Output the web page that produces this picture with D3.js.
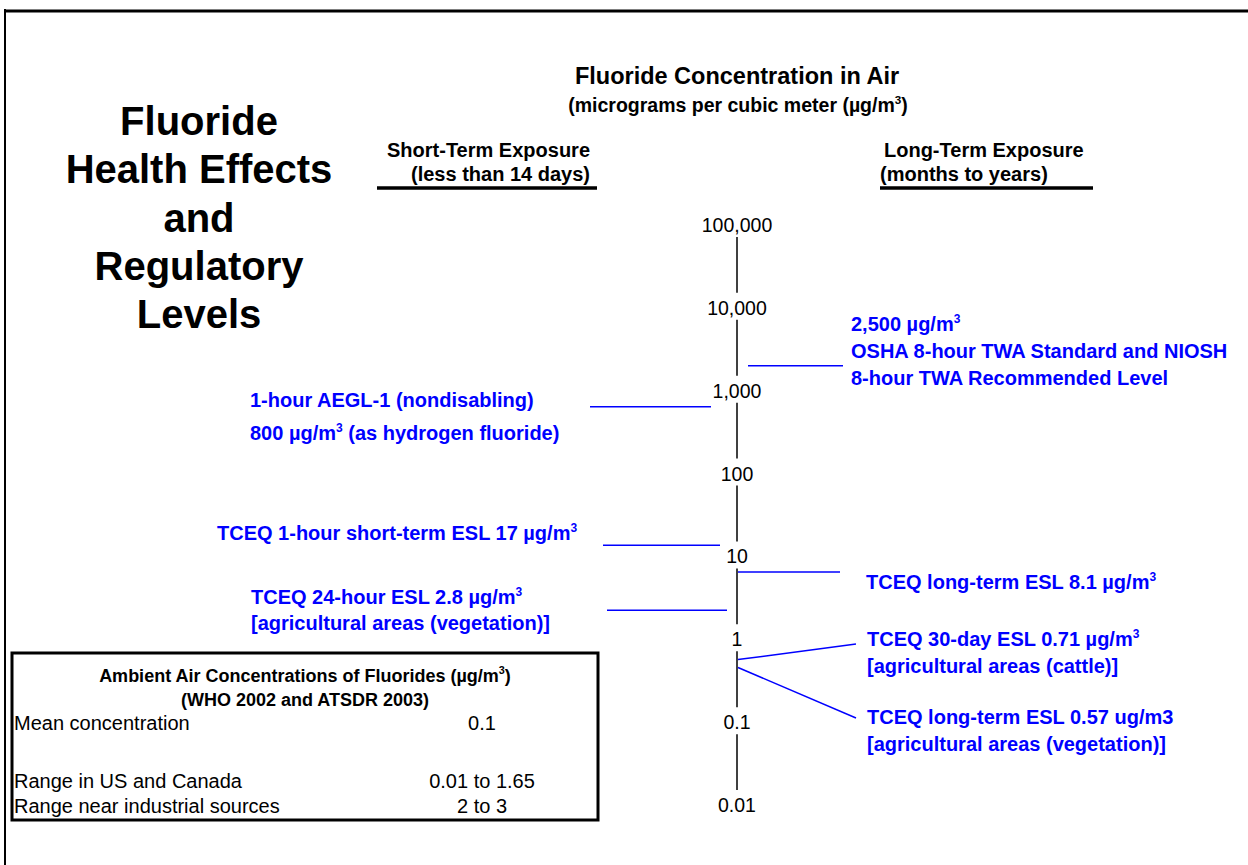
<!DOCTYPE html>
<html>
<head>
<meta charset="utf-8">
<script src="https://cdn.jsdelivr.net/npm/d3@7"></script>
<style>
  body { margin: 0; background: #fff; }
  svg text { font-family: "Liberation Sans", Arial, sans-serif; }
</style>
</head>
<body>
<svg id="chart" width="1248" height="865"></svg>
<script>
'use strict';

// axis ticks, micrograms per cubic meter
const tickValues = [100000, 10000, 1000, 100, 10, 1, 0.1, 0.01];

// short-term exposure levels (left of the axis)
const shortLevels = [800, 17, 2.8];
const shortLabels = [
  ['1-hour AEGL-1 (nondisabling)', '800 µg/m^3 (as hydrogen fluoride)'],
  ['TCEQ 1-hour short-term ESL 17 µg/m^3'],
  ['TCEQ 24-hour ESL 2.8 µg/m^3', '[agricultural areas (vegetation)]']
];

// long-term exposure levels (right of the axis)
const longLevels = [2500, 8.1, 0.71, 0.57];
const longLabels = [
  ['2,500 µg/m^3', 'OSHA 8-hour TWA Standard and NIOSH', '8-hour TWA Recommended Level'],
  ['TCEQ long-term ESL 8.1 µg/m^3'],
  ['TCEQ 30-day ESL 0.71 µg/m^3', '[agricultural areas (cattle)]'],
  ['TCEQ long-term ESL 0.57 ug/m3', '[agricultural areas (vegetation)]']
];

// ambient air table
const ambientTitle = ['Ambient Air Concentrations of Fluorides (µg/m^3)', '(WHO 2002 and ATSDR 2003)'];
const ambientRows = ['Mean concentration', 'Range in US and Canada', 'Range near industrial sources'];
const ambientValues = ['0.1', '0.01 to 1.65', '2 to 3'];

const bigTitle = ['Fluoride', 'Health Effects', 'and', 'Regulatory', 'Levels'];

// layout (label placement only)
const axisX = 737;
const blue = '#0000ff';
const shortLayout = [
  {tx: 250, ty: 407, gap: 33, x0: 590, x1: 711},
  {tx: 217, ty: 540, gap: 26, x0: 603, x1: 720},
  {tx: 251, ty: 604, gap: 26, x0: 607, x1: 727}
];
const longLayout = [
  {tx: 851, ty: 331, gap: 27, x0: 748, x1: 843},
  {tx: 866, ty: 589, gap: 27, x0: 738, x1: 840},
  {tx: 867, ty: 646, gap: 27, x0: 738, x1: 856, ey: 644},
  {tx: 867, ty: 724, gap: 27, x0: 738, x1: 856, ey: 718}
];
const ambientRowY = [730, 788, 813];

let svg = d3.select('#chart');

let y = d3.scaleLog()
    .domain([0.01, 100000])
    .range([813, 233]);

// text with an optional superscript marked by ^
function richText(sel, str, size) {
  let parts = str.split('^');
  sel.append('tspan').text(parts[0]);
  if (parts.length > 1) {
    sel.append('tspan')
        .attr('dy', -size * 0.42)
        .attr('font-size', size * 0.6)
        .text(parts[1].charAt(0));
    let rest = parts[1].slice(1);
    if (rest) {
      sel.append('tspan')
          .attr('dy', size * 0.42)
          .text(rest);
    }
  }
}

// page frame
svg.append('line')
    .attr('x1', 4).attr('x2', 1248)
    .attr('y1', 11).attr('y2', 11)
    .attr('stroke', '#000').attr('stroke-width', 3);
svg.append('line')
    .attr('x1', 5).attr('x2', 5)
    .attr('y1', 9).attr('y2', 865)
    .attr('stroke', '#000').attr('stroke-width', 2);

// big title on the left
svg.append('g')
    .selectAll('text')
    .data(bigTitle)
    .join('text')
    .attr('x', 199)
    .attr('y', (d, i) => 135 + i * 48.3)
    .attr('text-anchor', 'middle')
    .attr('font-size', 40)
    .attr('font-weight', 'bold')
    .text(d => d);

// chart heading
svg.append('text')
    .attr('x', 737).attr('y', 84)
    .attr('text-anchor', 'middle')
    .attr('font-size', 23.5)
    .attr('font-weight', 'bold')
    .text('Fluoride Concentration in Air');
svg.append('text')
    .attr('x', 738).attr('y', 112)
    .attr('text-anchor', 'middle')
    .attr('font-size', 19.5)
    .attr('font-weight', 'bold')
    .call(richText, '(micrograms per cubic meter (µg/m^3)', 19.5);

// column headers
let hdr = svg.append('g')
    .attr('font-size', 20)
    .attr('font-weight', 'bold');
hdr.append('text').attr('x', 590).attr('y', 157).attr('text-anchor', 'end').text('Short-Term Exposure');
hdr.append('text').attr('x', 590).attr('y', 181).attr('text-anchor', 'end').text('(less than 14 days)');
hdr.append('text').attr('x', 884).attr('y', 157).text('Long-Term Exposure');
hdr.append('text').attr('x', 880).attr('y', 181).text('(months to years)');
hdr.append('line').attr('x1', 377).attr('x2', 597).attr('y1', 188).attr('y2', 188)
    .attr('stroke', '#000').attr('stroke-width', 3.5);
hdr.append('line').attr('x1', 880).attr('x2', 1093).attr('y1', 188).attr('y2', 188)
    .attr('stroke', '#000').attr('stroke-width', 3.5);

// log axis: labels sit just above each tick, line runs between labels
let axis = svg.append('g').attr('class', 'axis');
axis.selectAll('text')
    .data(tickValues)
    .join('text')
    .attr('x', axisX)
    .attr('y', d => y(d) - 1)
    .attr('text-anchor', 'middle')
    .attr('font-size', 19.5)
    .text(d => d >= 1 ? d3.format(',')(d) : String(d));
axis.selectAll('line')
    .data(d3.pairs(tickValues))
    .join('line')
    .attr('x1', axisX).attr('x2', axisX)
    .attr('y1', d => y(d[0]) + 4)
    .attr('y2', d => y(d[1]) - 23)
    .attr('stroke', '#000')
    .attr('stroke-width', 1.5);

// short-term levels
let shortG = svg.append('g');
shortLevels.forEach((v, i) => {
  let L = shortLayout[i];
  shortG.append('line')
      .attr('x1', L.x0).attr('x2', L.x1)
      .attr('y1', y(v)).attr('y2', y(v))
      .attr('stroke', blue).attr('stroke-width', 1.5);
  shortLabels[i].forEach((s, j) => {
    shortG.append('text')
        .attr('x', L.tx).attr('y', L.ty + j * L.gap)
        .attr('fill', blue)
        .attr('font-size', 20)
        .attr('font-weight', 'bold')
        .call(richText, s, 20);
  });
});

// long-term levels
let longG = svg.append('g');
longLevels.forEach((v, i) => {
  let L = longLayout[i];
  longG.append('line')
      .attr('x1', L.x0).attr('x2', L.x1)
      .attr('y1', y(v)).attr('y2', L.ey == null ? y(v) : L.ey)
      .attr('stroke', blue).attr('stroke-width', 1.5);
  longLabels[i].forEach((s, j) => {
    longG.append('text')
        .attr('x', L.tx).attr('y', L.ty + j * L.gap)
        .attr('fill', blue)
        .attr('font-size', 20)
        .attr('font-weight', 'bold')
        .call(richText, s, 20);
  });
});

// ambient concentration table
let tbl = svg.append('g');
tbl.append('rect')
    .attr('x', 12).attr('y', 653)
    .attr('width', 586).attr('height', 167)
    .attr('fill', 'none')
    .attr('stroke', '#000')
    .attr('stroke-width', 3);
ambientTitle.forEach((s, j) => {
  tbl.append('text')
      .attr('x', 305).attr('y', 682 + j * 24)
      .attr('text-anchor', 'middle')
      .attr('font-size', 18)
      .attr('font-weight', 'bold')
      .call(richText, s, 18);
});
tbl.selectAll('text.row')
    .data(ambientRows)
    .join('text')
    .attr('class', 'row')
    .attr('x', 14)
    .attr('y', (d, i) => ambientRowY[i])
    .attr('font-size', 20)
    .text(d => d);
tbl.selectAll('text.val')
    .data(ambientValues)
    .join('text')
    .attr('class', 'val')
    .attr('x', 482)
    .attr('y', (d, i) => ambientRowY[i])
    .attr('text-anchor', 'middle')
    .attr('font-size', 20)
    .text(d => d);
</script>
</body>
</html>
